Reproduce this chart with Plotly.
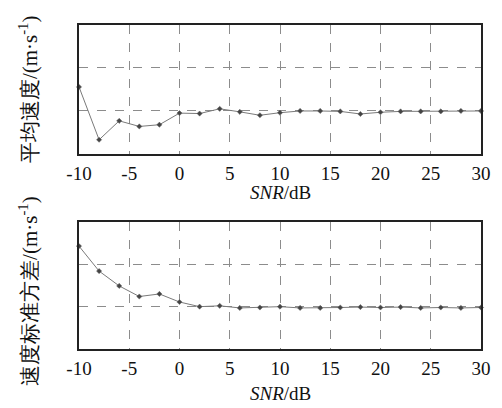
import plotly.graph_objects as go

snr = [-10, -8, -6, -4, -2, 0, 2, 4, 6, 8, 10, 12, 14, 16, 18, 20, 22, 24, 26, 28, 30]
mean_speed = [1.56, 0.33, 0.77, 0.64, 0.68, 0.95, 0.94, 1.05, 0.98, 0.90, 0.96, 1.0, 1.0, 0.99,
              0.93, 0.97, 0.99, 0.99, 0.99, 1.0, 1.0]
std_speed = [2.43, 1.84, 1.49, 1.24, 1.30, 1.11, 1.0, 1.02, 0.97, 0.98, 1.0, 0.97, 0.97, 0.98,
             0.99, 0.98, 0.99, 0.97, 0.98, 0.97, 0.98]
x_ticks = [-10, -5, 0, 5, 10, 15, 20, 25, 30]
x_ticktext = ["-10", "-5", "0", "5", "10", "15", "20", "25", "30"]
y_ticks = [0, 1, 2, 3]

FONT = "Liberation Serif"
LINE_C = "#7a7a7a"
GRID_C = "#8c8c8c"

fig = go.Figure()
for data, yax in [(mean_speed, "y"), (std_speed, "y2")]:
    fig.add_trace(go.Scatter(
        x=snr, y=data, mode="lines+markers", yaxis=yax, xaxis="x" if yax == "y" else "x2",
        line=dict(color=LINE_C, width=1),
        marker=dict(symbol="diamond", size=4, color="#444444", line=dict(color="#666", width=0.5)),
        showlegend=False, cliponaxis=False,
    ))

xcommon = dict(range=[-10, 30], tickvals=x_ticks, ticktext=x_ticktext, showgrid=True,
               gridcolor=GRID_C, griddash="dash", gridwidth=1, showline=True, linecolor="#222",
               linewidth=1.5, mirror=True, ticks="", ticklabelstandoff=1, zeroline=False,
               tickfont=dict(family=FONT, size=19, color="#111"))
ycommon = dict(range=[0, 3], tickvals=y_ticks, showticklabels=False, showgrid=True,
               gridcolor=GRID_C, griddash="dash", gridwidth=1, showline=True, linecolor="#222",
               linewidth=1.5, mirror=True, ticks="", zeroline=False)

fig.update_layout(
    width=502, height=408,
    margin=dict(l=79, r=21, t=25, b=59),
    paper_bgcolor="white", plot_bgcolor="white",
    xaxis=dict(**xcommon, anchor="y"),
    yaxis=dict(**ycommon, domain=[0.602, 1.0], anchor="x"),
    xaxis2=dict(**xcommon, anchor="y2"),
    yaxis2=dict(**ycommon, domain=[0.0, 0.392], anchor="x2"),
    font=dict(family=FONT, color="#111"),
)

for yb, ys in [(0.602, -39), (0.0, -44)]:
    fig.add_annotation(xref="paper", yref="paper", x=0.5, y=yb, yshift=ys,
                       text="<i>SNR</i>/dB", showarrow=False, font=dict(family=FONT, size=19),
                       xanchor="center", yanchor="middle")

fig.add_annotation(xref="paper", yref="paper", x=-0.127, y=0.802, text="平均速度/(m·s<sup>-1</sup>)",
                   textangle=-90, showarrow=False, font=dict(family=FONT, size=21),
                   xanchor="center", yanchor="middle")
fig.add_annotation(xref="paper", yref="paper", x=-0.127, y=0.179, text="速度标准方差/(m·s<sup>-1</sup>)",
                   textangle=-90, showarrow=False, font=dict(family=FONT, size=21),
                   xanchor="center", yanchor="middle")

fig.write_html("out.html", config={"displayModeBar": False},
               post_script="document.body.style.margin='0px';document.body.style.overflow='hidden';")
